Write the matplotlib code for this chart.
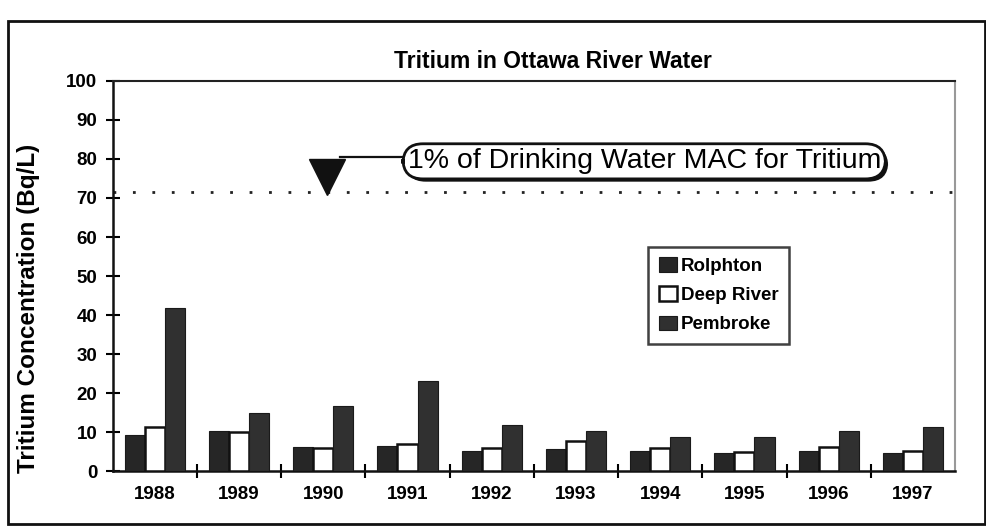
import matplotlib
matplotlib.use("Agg")
import matplotlib.pyplot as plt
from matplotlib.patches import Rectangle
import matplotlib.patheffects as pe
import numpy as np

years = ["1988", "1989", "1990", "1991", "1992", "1993", "1994", "1995", "1996", "1997"]
rolphton = [9.2, 10.3, 6.2, 6.5, 5.1, 5.6, 5.2, 4.5, 5.2, 4.5]
deep_river = [11.4, 10.1, 5.8, 6.8, 5.8, 7.8, 6.0, 4.9, 6.1, 5.2]
pembroke = [41.7, 14.8, 16.7, 23.2, 11.8, 10.3, 8.6, 8.8, 10.3, 11.4]
mac_level = 71.5
mac_label = "1% of Drinking Water MAC for Tritium"
series_names = ["Rolphton", "Deep River", "Pembroke"]

plt.rcParams['font.family'] = ['Liberation Sans', 'DejaVu Sans']
plt.rcParams['font.weight'] = 'bold'

fig = plt.figure(figsize=(9.87, 5.29), dpi=100)
ax = fig.add_axes([0.1142, 0.1096, 0.8534, 0.7373])

x = np.arange(len(years))
w = 0.238
ax.bar(x - w, rolphton, w, color="#262626", edgecolor="#1a1a1a", linewidth=0.8, label=series_names[0], zorder=3)
ax.bar(x, deep_river, w, color="white", edgecolor="#111111", linewidth=1.8, label=series_names[1], zorder=3)
ax.bar(x + w, pembroke, w, color="#303030", edgecolor="#1a1a1a", linewidth=0.8, label=series_names[2], zorder=3)

ax.set_xlim(-0.5, len(years) - 0.5)
ax.set_ylim(0, 100)
ax.set_yticks(np.arange(0, 101, 10))
ax.set_xticks(x)
ax.set_xticklabels(years, fontsize=13.5, fontweight='bold')
ax.set_xticks(np.arange(0.5, len(years) - 0.5, 1), minor=True)
ax.tick_params(axis='x', which='major', length=0, pad=11)
ax.tick_params(axis='x', which='minor', direction='inout', length=10, width=1.5)
ax.tick_params(axis='y', direction='inout', length=10, width=1.5, labelsize=13.5, pad=6)
for lab in ax.get_yticklabels():
    lab.set_fontweight('bold')

for s in ['left', 'bottom']:
    ax.spines[s].set_linewidth(1.8)
    ax.spines[s].set_color('#111111')
ax.spines['top'].set_linewidth(1.5)
ax.spines['top'].set_color('#222222')
ax.spines['right'].set_linewidth(1.5)
ax.spines['right'].set_color('#999999')

fig.text(0.029, 0.418, "Tritium Concentration (Bq/L)", fontsize=17.5, fontweight='bold',
         rotation=90, ha='center', va='center')
fig.text(0.56, 0.883, "Tritium in Ottawa River Water", fontsize=16.5, fontweight='bold', ha='center', va='center')

# MAC dotted line
ax.axhline(mac_level, color="#222222", linestyle=(0, (1, 6)), linewidth=2, zorder=2)
# triangle marker
ax.plot([2.045], [mac_level + 3.8], marker='v', markersize=26, color='#111111', zorder=4, clip_on=False)
# connecting line
ax.plot([2.2, 3.0], [80.6, 80.6], color='#111111', linewidth=1.6, zorder=4)
# callout box
t = ax.text(5.81, 79.4, mac_label, fontsize=20.5, fontweight='normal', ha='center', va='center', zorder=5,
            bbox=dict(boxstyle='round,pad=0.16,rounding_size=0.7', facecolor='white', edgecolor='#111111', linewidth=2))
t.get_bbox_patch().set_path_effects([pe.SimplePatchShadow(offset=(2, -2), shadow_rgbFace='#111111', alpha=1), pe.Normal()])

leg = ax.legend(loc='upper left', bbox_to_anchor=(0.636, 0.575), frameon=True, fancybox=False,
                edgecolor='#111111', fontsize=13.5, handlelength=1.0, handleheight=0.85,
                handletextpad=0.2, labelspacing=0.6, borderpad=0.55, borderaxespad=0)
leg.get_frame().set_linewidth(1.8)
for tx in leg.get_texts():
    tx.set_fontweight('bold')

# outer frame
fig.patches.append(Rectangle((8 / 987, 1 - 524 / 529), 977 / 987, (524 - 21) / 529, transform=fig.transFigure,
                             fill=False, edgecolor='#111111', linewidth=2))

fig.savefig("out.png", dpi=100)
